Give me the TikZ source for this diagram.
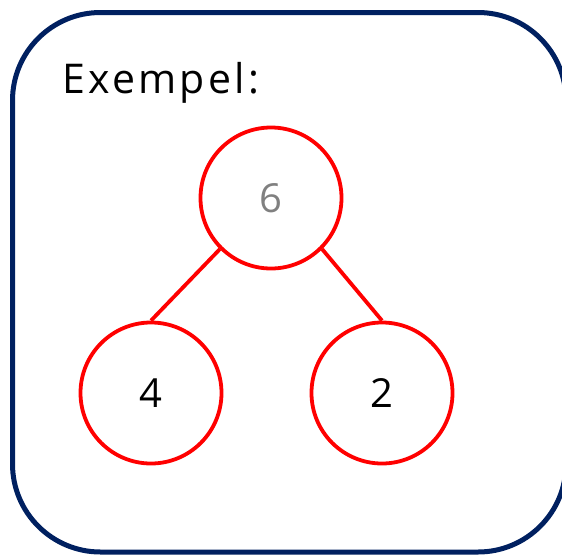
\documentclass[tikz,border=0pt]{standalone}
\usepackage{fontspec}
\setmainfont{Open Sans}
\newfontfamily\spacedfont[LetterSpace=8]{Open Sans}
\definecolor{navy}{HTML}{002060}
\definecolor{digitgray}{HTML}{808080}
\begin{document}
\begin{tikzpicture}[x=1pt,y=-1pt,
  frame/.style={draw=navy,line width=5pt,rounded corners=88pt},
  circ/.style={circle,draw=red,line width=3.8pt,minimum size=141pt,inner sep=0pt,font=\fontsize{40}{44}\selectfont},
  edge/.style={draw=red,line width=3.8pt}]
\useasboundingbox (0,0) rectangle (562,555);
\begin{scope}
\clip (0,0) rectangle (562,555);
\draw[frame] (12.5,12.5) rectangle (566,552);
\end{scope}
\node[anchor=base west,font=\spacedfont\fontsize{41}{46}\selectfont,inner sep=0pt] (title) at (62,93) {Exempel:};
\node[circ,text=digitgray] (top) at (271,198) {6};
\node[circ] (left) at (151,393) {4};
\node[circ] (right) at (382,393) {2};
\draw[edge] (top.225) -- (left.north);
\draw[edge] (top.-45) -- (right.north);
\end{tikzpicture}
\end{document}
